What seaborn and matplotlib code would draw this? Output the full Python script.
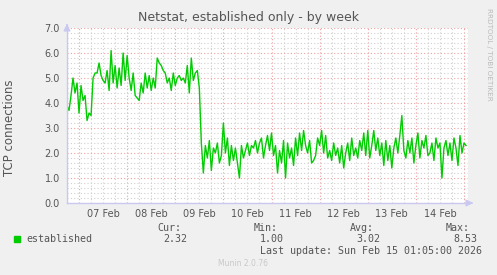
import matplotlib
matplotlib.use("Agg")
import matplotlib.pyplot as plt
import matplotlib.dates as mdates
import matplotlib.ticker as mticker
import numpy as np
import pandas as pd
import seaborn as sns

# ---- data (hourly samples) ----
start_time = "2026-02-06 18:00"
feb06 = [3.9, 3.7, 4.3, 5.0, 4.4, 4.8]
feb07 = [3.6, 4.7, 4.1, 4.3, 3.3, 3.6, 3.5, 5.0, 5.2, 5.2, 5.6, 5.1,
         4.9, 4.8, 5.3, 4.5, 6.1, 4.8, 5.5, 4.6, 5.4, 4.7, 6.0, 4.9]
feb08 = [5.9, 5.0, 4.5, 5.2, 4.3, 4.2, 4.1, 4.8, 4.4, 5.2, 4.6, 5.1,
         4.5, 5.0, 4.6, 5.8, 5.6, 5.5, 5.3, 5.2, 4.8, 5.0, 4.5, 5.2]
feb09 = [4.7, 5.0, 5.1, 4.9, 5.0, 4.8, 5.5, 4.4, 5.8, 4.9, 5.2, 5.3,
         4.6, 2.4, 1.2, 2.3, 1.8, 2.5, 1.3, 2.2, 2.0, 2.4, 1.6, 1.9]
feb10 = [3.2, 2.0, 2.6, 1.5, 2.3, 1.7, 2.2, 1.6, 1.0, 2.3, 1.8, 2.1,
         2.4, 1.9, 2.3, 2.2, 2.5, 2.0, 2.4, 2.6, 1.8, 2.3, 2.7, 2.1]
feb11 = [2.8, 1.9, 2.3, 1.2, 2.1, 1.6, 2.5, 1.0, 2.4, 1.8, 2.2, 1.5,
         2.6, 1.9, 2.8, 2.1, 2.9, 2.3, 2.0, 2.5, 1.6, 1.7, 1.9, 2.6]
feb12 = [2.3, 2.9, 2.0, 2.7, 1.8, 2.1, 1.7, 2.4, 1.9, 2.2, 1.6, 2.3,
         1.4, 2.0, 2.4, 1.7, 2.6, 1.9, 2.2, 1.8, 2.5, 2.1, 2.8, 1.9]
feb13 = [2.9, 1.8, 2.3, 2.9, 2.1, 2.6, 1.9, 2.4, 1.5, 2.5, 1.7, 2.3,
         1.4, 2.2, 2.6, 2.0, 2.7, 3.5, 2.1, 1.8, 2.5, 2.0, 2.6, 1.6]
feb14 = [2.3, 2.8, 1.8, 2.5, 2.2, 2.7, 1.9, 2.0, 2.4, 1.7, 2.6, 2.2,
         2.4, 1.0, 2.2, 2.5, 1.9, 2.4, 1.7, 2.6, 2.2, 1.5, 2.7, 2.0]
feb15 = [2.4, 2.3]

established = feb06 + feb07 + feb08 + feb09 + feb10 + feb11 + feb12 + feb13 + feb14 + feb15
y_ticks = [0.0, 1.0, 2.0, 3.0, 4.0, 5.0, 6.0, 7.0]
series_name = "established"
stats_labels = ["Cur:", "Min:", "Avg:", "Max:"]
stats_values = ["2.32", "1.00", "3.02", "8.53"]
title = "Netstat, established only - by week"
y_label = "TCP connections"
last_update = "Last update: Sun Feb 15 01:05:00 2026"

times = pd.date_range(start_time, periods=len(established), freq="h")
df = pd.DataFrame({"time": times, "value": established})

W, H = 497, 275
fig = plt.figure(figsize=(W / 100, H / 100), dpi=100, facecolor="#F0F0F0")
L, R, T, B = 67, 468, 28, 203
ax = fig.add_axes([L / W, 1 - B / H, (R - L) / W, (B - T) / H])
ax.set_facecolor("white")

sns.lineplot(data=df, x="time", y="value", ax=ax, color="#00CC00", linewidth=1.0)

ax.set_xlim(pd.Timestamp("2026-02-06 18:00"), pd.Timestamp("2026-02-15 02:00"))
ax.set_ylim(0, 7.0)

# grids
ax.xaxis.set_major_locator(mdates.DayLocator())
ax.xaxis.set_minor_locator(mdates.HourLocator(byhour=[0, 6, 12, 18]))
ax.xaxis.set_major_formatter(mticker.NullFormatter())

def minor_fmt(x, pos):
    d = mdates.num2date(x)
    return d.strftime("%d %b") if d.hour == 12 else ""

ax.xaxis.set_minor_formatter(mticker.FuncFormatter(minor_fmt))
ax.set_yticks(y_ticks)
ax.yaxis.set_minor_locator(mticker.MultipleLocator(0.2))
ax.yaxis.set_major_formatter(mticker.FormatStrFormatter("%.1f"))

ax.grid(True, which="minor", color="#D0D0D0", linestyle=(0, (1, 2)), linewidth=0.8)
ax.grid(True, which="major", color="#F0A0A0", linestyle=(0, (1, 2)), linewidth=0.8)
ax.set_axisbelow(True)

ax.tick_params(which="both", length=0, labelsize=7, colors="#555555", pad=4)
ax.tick_params(axis="y", pad=5)
ax.set_xlabel("")
ax.set_ylabel("")

for s in ["top", "right"]:
    ax.spines[s].set_visible(False)
for s in ["left", "bottom"]:
    ax.spines[s].set_color("#C8C8F0")
    ax.spines[s].set_linewidth(1.0)

# arrows at axis ends
ax.annotate("", xy=(1.02, 0), xytext=(1.0, 0), xycoords="axes fraction",
            arrowprops=dict(arrowstyle="-|>", color="#C8C8F0", lw=1), annotation_clip=False)
ax.annotate("", xy=(0, 1.04), xytext=(0, 1.0), xycoords="axes fraction",
            arrowprops=dict(arrowstyle="-|>", color="#C8C8F0", lw=1), annotation_clip=False)

def ft(x, y, s, **kw):
    fig.text(x / W, 1 - y / H, s, **kw)

ft(249, 18, title, ha="center", va="center", fontsize=9, color="#555555")
ft(10, 128, y_label, ha="center", va="center", rotation=90, fontsize=8.5, color="#555555")
ft(489, 54, "RRDTOOL / TOBI OETIKER", ha="center", va="center", rotation=270,
   fontsize=5.2, color="#BBBBBB")

mono = dict(family="DejaVu Sans Mono", fontsize=7.2, color="#555555")
fig.patches.append(plt.Rectangle((14 / W, 1 - 242 / H), 6 / W, 6 / H,
                                 transform=fig.transFigure, color="#00CC00"))
ft(26, 239.5, series_name, ha="left", va="center", **mono)
label_right = [181, 278, 374, 470]
value_right = [187, 284, 380, 477]
for lx, vx, lab, val in zip(label_right, value_right, stats_labels, stats_values):
    ft(lx, 228, lab, ha="right", va="center", **mono)
    ft(vx, 239.5, val, ha="right", va="center", **mono)
ft(482, 251.5, last_update, ha="right", va="center", **mono)
ft(243, 264, "Munin 2.0.76", ha="center", va="center", fontsize=5.5, color="#C8C8C8")

fig.savefig("out.png", dpi=100, facecolor=fig.get_facecolor())
